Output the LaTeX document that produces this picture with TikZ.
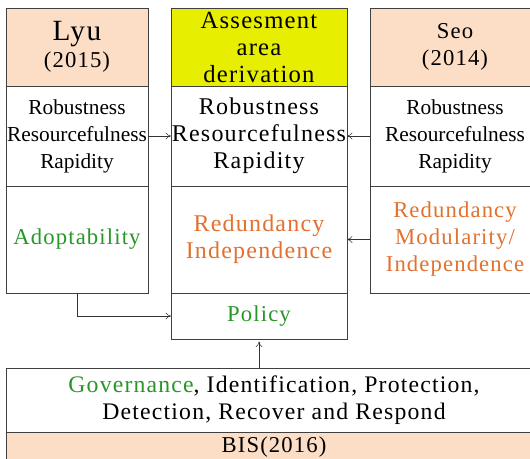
\documentclass[tikz,border=0pt]{standalone}
\usepackage{fontspec}
\setmainfont{Liberation Serif}
\newfontfamily\wide[LetterSpace=5]{Liberation Serif}
\usetikzlibrary{positioning,arrows.meta}
\definecolor{peach}{RGB}{252,221,198}
\definecolor{lime}{RGB}{232,238,0}
\definecolor{leaf}{RGB}{40,150,40}
\definecolor{rust}{RGB}{226,112,46}
\tikzset{
  >={To[length=4pt,width=5pt]},
}
\tikzstyle{box}=[draw=black!75,rectangle,outer sep=0pt,inner sep=0pt,align=center,
  font=\wide\fontsize{17}{20.25}\selectfont]
\tikzstyle{plain}=[font=\rmfamily\fontsize{16}{20.25}\selectfont]
\tikzstyle{big}=[font=\wide\fontsize{18}{20.25}\selectfont]
\tikzstyle{link}=[->,black!80]

\begin{document}
\begin{tikzpicture}[x=0.75pt,y=-0.75pt]
  \clip (0,0) rectangle (530,458);
  % Lyu
  \node[box,fill=peach,anchor=north west,minimum width=106.5pt,minimum height=58.5pt] (lyu) at (6,8)
    {{\fontsize{22}{20.25}\selectfont Lyu}\\(2015)};
  \node[box,plain,below=0pt of lyu,minimum width=106.5pt,minimum height=75pt] (lyuR)
    {Robustness\\Resourcefulness\\Rapidity};
  \node[box,below=0pt of lyuR,minimum width=106.5pt,minimum height=80.25pt,text=leaf] (lyuA)
    {Adoptability};
  % assesment column
  \node[box,fill=lime,anchor=north west,minimum width=132pt,minimum height=58.5pt,
    font=\wide\fontsize{18.5}{20.25}\selectfont] (area) at (171,8)
    {Assesment\\area\\derivation};
  \node[box,big,below=0pt of area,minimum width=132pt,minimum height=75pt] (areaR)
    {Robustness\\Resourcefulness\\Rapidity};
  \node[box,big,below=0pt of areaR,minimum width=132pt,minimum height=80.25pt,text=rust] (areaI)
    {Redundancy\\Independence};
  \node[box,below=0pt of areaI,minimum width=132pt,minimum height=34.5pt,text=leaf] (policy)
    {Policy};
  % Seo
  \node[box,fill=peach,anchor=north west,minimum width=127.5pt,minimum height=58.5pt] (seo) at (370,8)
    {Seo\\(2014)};
  \node[box,plain,below=0pt of seo,minimum width=127.5pt,minimum height=75pt] (seoR)
    {Robustness\\Resourcefulness\\Rapidity};
  \node[box,below=0pt of seoR,minimum width=127.5pt,minimum height=80.25pt,text=rust] (seoI)
    {Redundancy\\Modularity/\\Independence};
  % BIS
  \node[box,anchor=north west,minimum width=402pt,minimum height=48pt,
    font=\wide\fontsize{17.8}{20.25}\selectfont] (gov) at (6,368)
    {\textcolor{leaf}{Governance}, Identification, Protection,\\Detection, Recover and Respond};
  \node[box,fill=peach,below=0pt of gov,minimum width=402pt,minimum height=22.5pt] (bis)
    {BIS(2016)};

  \draw[link] (lyuR) -- (areaR);
  \draw[link] (seoR) -- (areaR);
  \draw[link] (seoI) -- (areaI);
  \draw[link] (lyuA.south) |- (policy.west);
  \draw[link,shorten >=2pt] (gov.north -| policy.south) -- (policy.south);
\end{tikzpicture}
\end{document}
